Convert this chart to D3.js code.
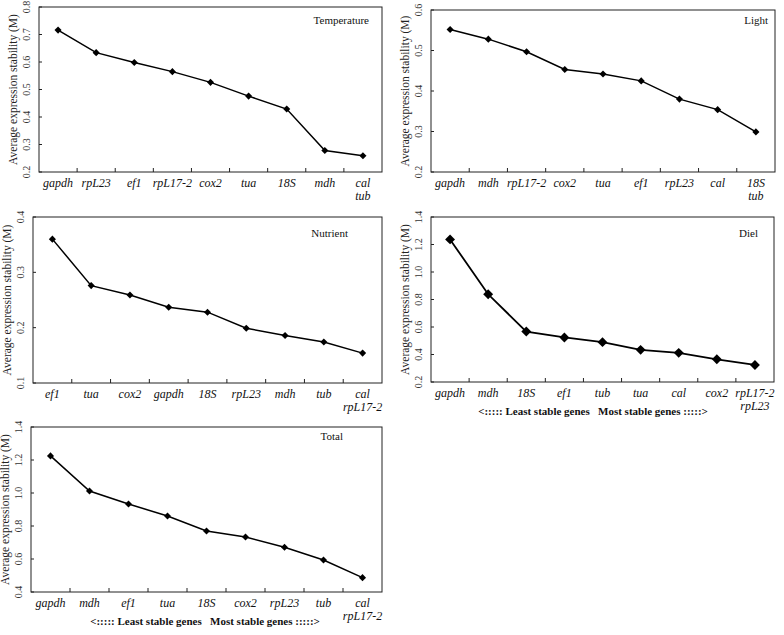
<!DOCTYPE html>
<html>
<head>
<meta charset="utf-8">
<script src="https://cdn.jsdelivr.net/npm/d3@7"></script>
<style>
  body { margin: 0; background: #fff; }
</style>
</head>
<body>
<div id="chart"></div>
<script>
// Gene stability (geNorm M) under five conditions
const tempGenes = ['gapdh', 'rpL23', 'ef1', 'rpL17-2', 'cox2', 'tua', '18S', 'mdh', 'cal|tub'];
const tempValues = [0.716, 0.634, 0.598, 0.565, 0.526, 0.476, 0.429, 0.278, 0.259];
const tempTicks = [0.2, 0.3, 0.4, 0.5, 0.6, 0.7, 0.8];

const lightGenes = ['gapdh', 'mdh', 'rpL17-2', 'cox2', 'tua', 'ef1', 'rpL23', 'cal', '18S|tub'];
const lightValues = [0.552, 0.528, 0.497, 0.453, 0.442, 0.425, 0.380, 0.354, 0.299];
const lightTicks = [0.2, 0.3, 0.4, 0.5, 0.6];

const nutrientGenes = ['ef1', 'tua', 'cox2', 'gapdh', '18S', 'rpL23', 'mdh', 'tub', 'cal|rpL17-2'];
const nutrientValues = [0.360, 0.276, 0.259, 0.237, 0.228, 0.199, 0.186, 0.174, 0.154];
const nutrientTicks = [0.1, 0.2, 0.3, 0.4];

const dielGenes = ['gapdh', 'mdh', '18S', 'ef1', 'tub', 'tua', 'cal', 'cox2', 'rpL17-2|rpL23'];
const dielValues = [1.237, 0.838, 0.567, 0.524, 0.490, 0.434, 0.412, 0.365, 0.324];
const dielTicks = [0.2, 0.4, 0.6, 0.8, 1.0, 1.2, 1.4];

const totalGenes = ['gapdh', 'mdh', 'ef1', 'tua', '18S', 'cox2', 'rpL23', 'tub', 'cal|rpL17-2'];
const totalValues = [1.225, 1.012, 0.933, 0.861, 0.770, 0.733, 0.671, 0.594, 0.487];
const totalTicks = [0.4, 0.6, 0.8, 1.0, 1.2, 1.4];

const yLabel = 'Average expression stability (M)';
const xNote = '<::::: Least stable genes   Most stable genes :::::>';

// panel boxes on the page
const panels = [
    { title: 'Temperature', genes: tempGenes, values: tempValues, ticks: tempTicks,
      box: { x0: 39, y0: 7, x1: 382, y1: 172 }, titleEnd: 369, titleY: 24, marker: 5 },
    { title: 'Light', genes: lightGenes, values: lightValues, ticks: lightTicks,
      box: { x0: 431, y0: 10, x1: 775, y1: 172 }, titleEnd: 768, titleY: 24, marker: 5 },
    { title: 'Nutrient', genes: nutrientGenes, values: nutrientValues, ticks: nutrientTicks,
      box: { x0: 33, y0: 217, x1: 382, y1: 383 }, titleEnd: 348, titleY: 237, marker: 5 },
    { title: 'Diel', genes: dielGenes, values: dielValues, ticks: dielTicks,
      box: { x0: 431, y0: 217, x1: 774, y1: 382 }, titleEnd: 758, titleY: 237, marker: 7, noteX: 593 },
    { title: 'Total', genes: totalGenes, values: totalValues, ticks: totalTicks,
      box: { x0: 31, y0: 427, x1: 382, y1: 592 }, titleEnd: 343, titleY: 440, marker: 5, noteX: 205 }
];

const serif = "'Liberation Serif', 'Times New Roman', 'DejaVu Serif', serif";

const svg = d3.select('#chart').append('svg')
    .attr('width', 784)
    .attr('height', 635)
    .attr('font-family', serif)
    .style('display', 'block');

panels.forEach(p => {
    const b = p.box;
    const g = svg.append('g');

    const x = d3.scaleBand()
        .domain(p.genes)
        .range([b.x0, b.x1]);

    const y = d3.scaleLinear()
        .domain(d3.extent(p.ticks))
        .range([b.y1, b.y0]);

    // frame
    g.append('rect')
        .attr('x', b.x0)
        .attr('y', b.y0)
        .attr('width', b.x1 - b.x0)
        .attr('height', b.y1 - b.y0)
        .attr('fill', 'none')
        .attr('stroke', '#222')
        .attr('stroke-width', 1);

    // x ticks at category boundaries, pointing inward
    g.selectAll('.xtick')
        .data(p.genes.slice(1))
        .enter()
        .append('line')
        .attr('x1', d => x(d))
        .attr('x2', d => x(d))
        .attr('y1', b.y1)
        .attr('y2', b.y1 - 4)
        .attr('stroke', '#222');

    // x labels (italic, some two-line)
    const labels = g.selectAll('.xlab')
        .data(p.genes)
        .enter()
        .append('text')
        .attr('x', d => x(d) + x.bandwidth() / 2)
        .attr('y', b.y1 + 15)
        .attr('text-anchor', 'middle')
        .style('font-style', 'italic')
        .style('font-size', '12px')
        .attr('fill', '#111');
    labels.each(function(d) {
        const parts = d.split('|');
        const t = d3.select(this);
        parts.forEach((s, i) => {
            t.append('tspan')
                .attr('x', x(d) + x.bandwidth() / 2)
                .attr('dy', i === 0 ? 0 : 13)
                .text(s);
        });
    });

    // y ticks and rotated labels
    g.selectAll('.ytick')
        .data(p.ticks)
        .enter()
        .append('line')
        .attr('x1', b.x0)
        .attr('x2', b.x0 + 3)
        .attr('y1', d => y(d))
        .attr('y2', d => y(d))
        .attr('stroke', '#222');

    g.selectAll('.ylab')
        .data(p.ticks)
        .enter()
        .append('text')
        .attr('transform', d => `translate(${b.x0 - 9},${y(d)}) rotate(-90)`)
        .attr('text-anchor', 'middle')
        .style('font-size', '10px')
        .attr('fill', '#333')
        .text(d => d3.format('.1f')(d));

    g.append('text')
        .attr('transform', `translate(${b.x0 - 22},${(b.y0 + b.y1) / 2}) rotate(-90)`)
        .attr('text-anchor', 'middle')
        .style('font-size', '11.5px')
        .attr('fill', '#222')
        .text(yLabel);

    // title
    g.append('text')
        .attr('x', p.titleEnd)
        .attr('y', p.titleY)
        .attr('text-anchor', 'end')
        .style('font-size', '11px')
        .attr('fill', '#111')
        .text(p.title);

    // line + diamonds
    const pts = p.genes.map((gn, i) => [x(gn) + x.bandwidth() / 2, y(p.values[i])]);

    g.append('path')
        .datum(pts)
        .attr('d', d3.line())
        .attr('fill', 'none')
        .attr('stroke', '#000')
        .attr('stroke-width', p.marker > 5 ? 1.8 : 1.5);

    g.selectAll('.pt')
        .data(pts)
        .enter()
        .append('rect')
        .attr('x', -p.marker / 2)
        .attr('y', -p.marker / 2)
        .attr('width', p.marker)
        .attr('height', p.marker)
        .attr('transform', d => `translate(${d[0]},${d[1]}) rotate(45)`)
        .attr('fill', '#000');

    if (p.noteX) {
        g.append('text')
            .attr('x', p.noteX)
            .attr('y', b.y1 + 33)
            .attr('text-anchor', 'middle')
            .style('font-size', '11px')
            .style('font-weight', 'bold')
            .style('white-space', 'pre')
            .attr('fill', '#111')
            .text(xNote);
    }
});
</script>
</body>
</html>
